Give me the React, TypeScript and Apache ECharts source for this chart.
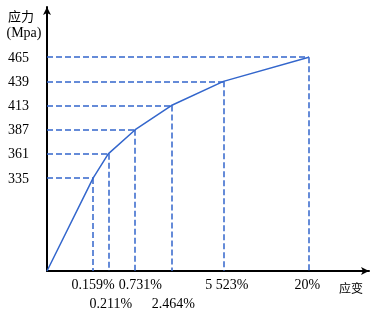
import React, { useEffect, useRef } from "react";
import * as echarts from "echarts";

// Strain tick labels (as printed) and their positions on the schematic (non-linear) strain axis
const strainLabels = ["0.159%", "0.211%", "0.731%", "2.464%", "5 523%", "20%"];
const strainPos = [17.6, 23.4, 33.7, 47.5, 67.4, 100];
// labels printed on the second row under the axis
const lowerRowLabels = ["0.211%", "2.464%"];
// Stress values (MPa) at each strain point
const stressValues = [335, 361, 387, 413, 439, 465];
// The stress axis is broken: this many MPa are cut out below 335
const stressAxisBreak = 235;

// small horizontal nudges of each strain label (px), a styling detail of the original
const labelNudge = [0, 2.5, 5, 2, 3.5, -1.5];

const serif = "Liberation Serif";
const cjk = "Noto Sans CJK SC";
const blue = "#3366cc";

const yPos = (s: number) => (s === 0 ? 0 : s - stressAxisBreak);

export default function App() {
  const ref = useRef<HTMLDivElement>(null);
  useEffect(() => {
    if (!ref.current) return;
    const chart = echarts.init(ref.current, undefined, { renderer: "svg" });
    const points: number[][] = [[0, 0]].concat(
      strainPos.map((x, i) => [x, yPos(stressValues[i])])
    );
    const guides: any[] = [];
    strainPos.forEach((x, i) => {
      const y = yPos(stressValues[i]);
      guides.push([{ coord: [0, y] }, { coord: [x, y] }]);
      guides.push([{ coord: [x, y] }, { coord: [x, 0] }]);
    });

    const rich: any = {};
    labelNudge.forEach((n, i) => {
      rich["s" + i] = {
        fontFamily: serif,
        fontSize: 14,
        color: "#000",
        padding: n >= 0 ? [0, 0, 0, 2 * n] : [0, -2 * n, 0, 0],
      };
    });
    const upperIdx = strainLabels
      .map((l, i) => (lowerRowLabels.includes(l) ? -1 : i))
      .filter((i) => i >= 0);
    const lowerIdx = strainLabels
      .map((l, i) => (lowerRowLabels.includes(l) ? i : -1))
      .filter((i) => i >= 0);
    const fmt = (v: number) => {
      const i = strainPos.indexOf(v);
      return i < 0 ? "" : `{s${i}|${strainLabels[i]}}`;
    };
    const baseX = {
      type: "value",
      min: 0,
      max: 123,
      position: "bottom",
      splitLine: { show: false },
      axisTick: { show: false },
    };

    const option: any = {
      animation: false,
      grid: { left: 47, right: 9, top: 7, bottom: 39, containLabel: false },
      xAxis: [
        {
          ...baseX,
          axisLine: {
            show: true,
            symbol: ["none", "arrow"],
            symbolSize: [6, 8],
            lineStyle: { color: "#000", width: 2 },
          },
          axisLabel: {
            customValues: upperIdx.map((i) => strainPos[i]),
            showMinLabel: true,
            showMaxLabel: true,
            margin: 6,
            color: "#000",
            fontFamily: serif,
            fontSize: 14,
            formatter: fmt,
            rich,
          },
        },
        {
          ...baseX,
          axisLine: { show: false },
          axisLabel: {
            customValues: lowerIdx.map((i) => strainPos[i]),
            showMinLabel: true,
            showMaxLabel: true,
            margin: 25,
            color: "#000",
            fontFamily: serif,
            fontSize: 14,
            formatter: fmt,
            rich,
          },
        },
      ],
      yAxis: {
        type: "value",
        min: 0,
        max: 284,
        splitLine: { show: false },
        axisTick: { show: false },
        axisLine: {
          show: true,
          symbol: ["none", "arrow"],
          symbolSize: [6, 8],
          lineStyle: { color: "#000", width: 2 },
        },
        axisLabel: {
          customValues: stressValues.map(yPos),
          showMinLabel: true,
          showMaxLabel: true,
          margin: 18,
          color: "#000",
          fontFamily: serif,
          fontSize: 14,
          formatter: (v: number) => {
            const i = stressValues.map(yPos).indexOf(v);
            return i < 0 ? "" : String(stressValues[i]);
          },
        },
      },
      graphic: [
        {
          type: "text",
          x: 21,
          y: 15,
          style: {
            text: "应力",
            fontFamily: cjk,
            fontSize: 13,
            fill: "#000",
            align: "center",
            verticalAlign: "middle",
          },
        },
        {
          type: "text",
          x: 24,
          y: 32,
          style: {
            text: "(Mpa)",
            fontFamily: serif,
            fontSize: 14,
            fill: "#000",
            align: "center",
            verticalAlign: "middle",
          },
        },
        {
          type: "text",
          x: 351,
          y: 287,
          style: {
            text: "应变",
            fontFamily: cjk,
            fontSize: 12,
            fill: "#000",
            align: "center",
            verticalAlign: "middle",
          },
        },
      ],
      series: [
        {
          type: "line",
          data: points,
          symbol: "none",
          lineStyle: { color: blue, width: 1.5 },
          z: 3,
          markLine: {
            silent: true,
            symbol: ["none", "none"],
            label: { show: false },
            lineStyle: { color: blue, width: 1.5, type: [6, 3] },
            data: guides,
          },
        },
      ],
    };
    chart.setOption(option);
    return () => chart.dispose();
  }, []);
  return (
    <div
      ref={ref}
      style={{ position: "fixed", left: 0, top: 0, width: 378, height: 310 }}
    />
  );
}
